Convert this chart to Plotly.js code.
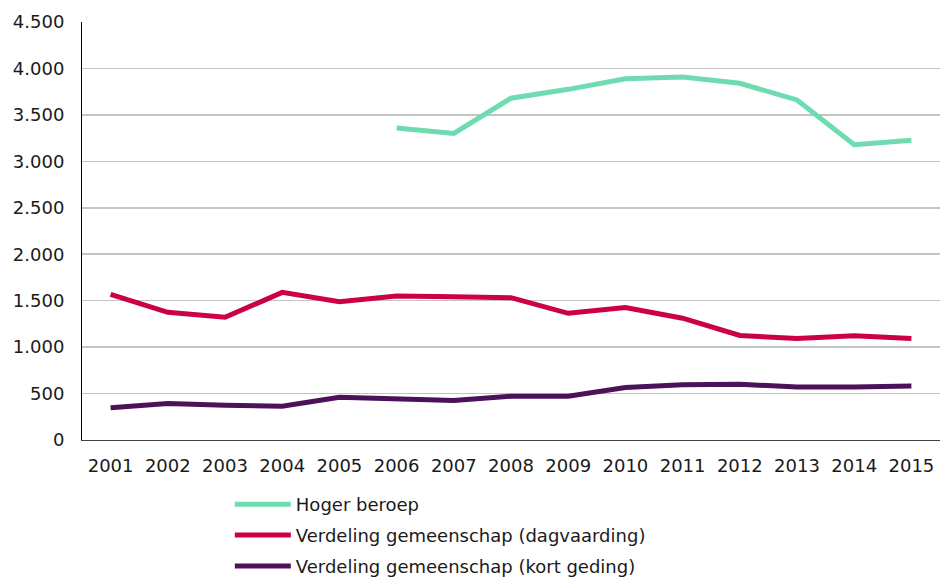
<!DOCTYPE html>
<html>
<head>
<meta charset="utf-8">
<script src="https://cdn.plot.ly/plotly-3.0.1.min.js"></script>
<style>html,body{margin:0;padding:0;background:#fff;}#chart{width:941px;height:578px;}</style>
</head>
<body>
<div id="chart"></div>
<script>
var years = ["2001","2002","2003","2004","2005","2006","2007","2008","2009","2010","2011","2012","2013","2014","2015"];
var hogerBeroep = [null,null,null,null,null,3360,3300,3680,3775,3889,3908,3840,3661,3179,3227];
var dagvaarding = [1568,1375,1321,1589,1489,1550,1543,1532,1364,1425,1311,1125,1093,1121,1093];
var kortGeding = [346,393,375,364,461,439,425,471,471,564,596,600,571,571,582];
var seriesNames = ["Hoger beroep","Verdeling gemeenschap (dagvaarding)","Verdeling gemeenschap (kort geding)"];
var yTicks = [0,500,1000,1500,2000,2500,3000,3500,4000,4500];

var colors = ["#6fdbb0","#cc0044","#4b1259"];
var data = [hogerBeroep, dagvaarding, kortGeding].map(function(v,i){
  return {x: years, y: v, type: 'scatter', mode: 'lines', name: seriesNames[i],
    legendgroup: 'g' + i,
    line: {color: colors[i], width: 5}, connectgaps: false};
});

var layout = {
  width: 941, height: 578,
  margin: {l: 82, r: 1, t: 22, b: 138},
  paper_bgcolor: '#fff', plot_bgcolor: '#fff',
  separators: ',.',
  font: {family: 'DejaVu Sans, Verdana, sans-serif', size: 18, color: '#1a1a1a'},
  showlegend: true,
  xaxis: {type: 'category', range: [-0.5, 14.5], showgrid: false, showline: true, linecolor: '#404040', linewidth: 1,
    ticks: '', ticklabelstandoff: 9, zeroline: false, fixedrange: true},
  yaxis: {range: [0, 4500], tickvals: yTicks, separatethousands: true, tickformat: ',d',
    showgrid: true, gridcolor: '#c4c4c4', gridwidth: 1.5, showline: true, linecolor: '#000', linewidth: 1,
    ticks: '', ticklabelstandoff: 13, zeroline: false, fixedrange: true},
  legend: {orientation: 'v', x: 0.1723, xanchor: 'left', y: 0.1592, yref: 'container', yanchor: 'top',
    tracegroupgap: 4.5, traceorder: 'grouped',
    itemwidth: 56, font: {size: 18, color: '#1a1a1a'}, bgcolor: 'rgba(0,0,0,0)'}
};
Plotly.newPlot('chart', data, layout, {displayModeBar: false, staticPlot: true});
</script>
</body>
</html>
